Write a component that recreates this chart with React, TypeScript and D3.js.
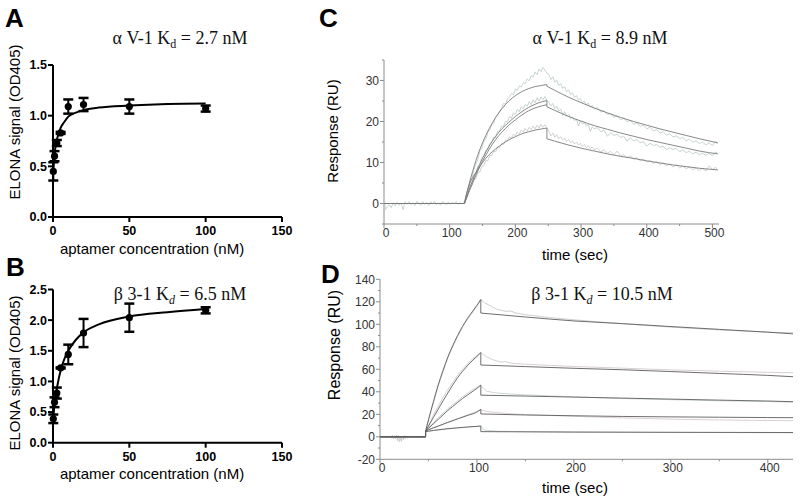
import React from "react";
import * as d3 from "d3";

type Pt = [number, number];

const SANS = "'Liberation Sans', Arial, sans-serif";
const SERIF = "'Liberation Serif', 'Times New Roman', serif";

// ---------- ELONA titration (panels A, B) ----------
const concentrations = [0.2, 1, 2.5, 5, 10, 20, 50, 100];
const signalA = [0.45, 0.6, 0.73, 0.83, 1.09, 1.11, 1.09, 1.07];
const errA = [0.09, 0.05, 0.03, 0.01, 0.07, 0.065, 0.07, 0.03];
const signalB = [0.39, 0.66, 0.81, 1.22, 1.44, 1.79, 2.04, 2.16];
const errB = [0.07, 0.08, 0.09, 0.01, 0.16, 0.23, 0.23, 0.05];

// fitted curves
const fitA: Pt[] = [[0, 0.43], [1, 0.62], [2, 0.72], [3, 0.79], [5, 0.88], [7.5, 0.94], [10, 0.99], [15, 1.03], [20, 1.055], [30, 1.08], [50, 1.1], [75, 1.115], [100, 1.12]];
const fitB: Pt[] = [[0, 0.35], [1, 0.62], [2, 0.8], [3, 0.95], [5, 1.18], [7.5, 1.37], [10, 1.5], [15, 1.68], [20, 1.8], [30, 1.93], [50, 2.06], [75, 2.13], [100, 2.18]];

const elonaXTicks = [0, 50, 100, 150];

// ---------- SPR sensorgrams, panel C ----------
const rawBaseC: Pt[] = [[0, 2.5], [2, -1.5], [5, -0.8], [8, -0.3], [11, -1.0], [14, 0.2], [17, -0.6], [20, 0.3], [23, -0.4], [26, 0.1], [29, -1.5], [32, 0.4], [35, -0.2], [38, 0.5], [41, -0.3], [44, 0.2], [47, -0.5], [50, 0.6], [53, 0.0], [56, -0.4], [59, 0.5], [62, -0.2], [65, 0.3], [68, -0.5], [71, 0.4], [74, 0.0], [77, 0.6], [80, -0.3], [83, 0.2], [86, -0.4], [89, 0.5], [92, 0.1], [95, -0.3], [98, 0.4], [101, -0.2], [104, 0.3], [107, 0.0], [110, 0.5], [113, -0.2], [116, 0.2], [119, -0.1], [122, 0.2]];

const rawC1: Pt[] = [[122, 0.5], [125, 1.8], [128, 3.2], [131, 5.5], [134, 6.2], [137, 8.4], [140, 9.6], [143, 10.8], [146, 12.9], [149, 13.5], [152, 15.2], [155, 15.6], [158, 17.4], [161, 17.9], [164, 19.3], [167, 19.6], [170, 21.2], [173, 21.5], [176, 22.7], [179, 23.1], [182, 24.4], [185, 24.2], [188, 25.6], [191, 25.9], [194, 26.8], [197, 26.5], [200, 27.9], [203, 27.6], [206, 28.7], [209, 28.4], [212, 29.5], [215, 29.2], [218, 30.4], [221, 29.9], [224, 31.2], [227, 30.8], [230, 32.1], [233, 31.4], [236, 32.8], [239, 32.2], [242, 33.2], [245, 32.5], [248, 31.8], [251, 31.5], [254, 30.2], [257, 30.9], [260, 29.6], [263, 30.1], [266, 28.8], [269, 29.2], [272, 28.1], [275, 28.5], [278, 27.3], [281, 27.7], [284, 26.6], [287, 27], [290, 25.9], [293, 26.3], [296, 25.2], [299, 25.6], [302, 24.6], [305, 25], [308, 24], [311, 24.5], [314, 23.5], [317, 23.9], [320, 23], [325, 23.4], [330, 22.3], [335, 22.7], [340, 21.7], [345, 22], [350, 21], [355, 21.4], [360, 20.4], [365, 20.8], [370, 19.9], [375, 20.3], [380, 19.3], [385, 19.7], [390, 18.8], [395, 19.1], [400, 18.2], [405, 18.6], [410, 17.7], [415, 18], [420, 17.2], [425, 17.5], [430, 16.7], [435, 17], [440, 16.2], [445, 16.5], [450, 15.8], [455, 16.1], [460, 15.3], [465, 15.7], [470, 15], [475, 15.3], [480, 14.6], [485, 15], [490, 14.3], [495, 14.8], [500, 14.1], [505, 15.2], [508, 14.5]];

const rawC2: Pt[] = [[122, 0.3], [125, 1.5], [128, 2.6], [131, 4.4], [134, 5.1], [137, 6.9], [140, 7.4], [143, 9.1], [146, 9.6], [149, 11.2], [152, 11.5], [155, 13], [158, 13.2], [161, 14.6], [164, 14.9], [167, 16.2], [170, 16.1], [173, 17.6], [176, 17.7], [179, 18.9], [182, 18.8], [185, 20.1], [188, 19.9], [191, 21.2], [194, 20.8], [197, 22.1], [200, 21.7], [203, 23], [206, 22.4], [209, 23.6], [212, 23.1], [215, 24.2], [218, 23.7], [221, 24.8], [224, 24.1], [227, 25.3], [230, 24.6], [233, 25.8], [236, 25], [239, 26], [242, 25.3], [245, 26.1], [248, 25.2], [251, 24.6], [254, 23.8], [257, 24.4], [260, 23.1], [263, 23.7], [266, 22.5], [269, 23], [272, 21.5], [275, 22.4], [278, 21.3], [281, 21.8], [284, 20.7], [287, 21.2], [290, 20.2], [293, 20.6], [296, 18.9], [299, 20.1], [302, 19.4], [305, 19.8], [308, 18.9], [311, 19.3], [314, 17.6], [317, 18.7], [320, 18.2], [325, 18.5], [330, 17.5], [335, 17.9], [340, 16.4], [345, 17.3], [350, 16.6], [355, 16.9], [360, 16.1], [365, 16.4], [370, 15.2], [375, 16], [380, 15.3], [385, 15.6], [390, 14.8], [395, 15.1], [400, 14], [405, 14.7], [410, 14.1], [415, 14.4], [420, 13.7], [425, 14], [430, 13.1], [435, 13.6], [440, 13.2], [445, 13.4], [450, 12.6], [455, 13.1], [460, 12.4], [465, 12.8], [470, 12.1], [475, 12.5], [480, 11.9], [485, 12.3], [490, 11.7], [495, 12.2], [500, 11.6], [505, 12.6], [508, 12]];

const rawC3: Pt[] = [[122, 0.2], [125, 1.8], [128, 2.4], [131, 4], [134, 4.3], [137, 5.9], [140, 6.1], [143, 7.6], [146, 7.7], [149, 9.1], [152, 9.2], [155, 10.5], [158, 10.4], [161, 11.7], [164, 11.6], [167, 12.8], [170, 12.6], [173, 13.8], [176, 13.6], [179, 14.7], [182, 14.4], [185, 15.5], [188, 15.2], [191, 16.3], [194, 15.9], [197, 16.9], [200, 16.5], [203, 17.4], [206, 17], [209, 17.9], [212, 17.4], [215, 18.3], [218, 17.7], [221, 18.6], [224, 18], [227, 18.9], [230, 18.2], [233, 19.1], [236, 18.4], [239, 19.3], [242, 18.6], [245, 19.2], [248, 18.5], [251, 17.6], [254, 16.5], [257, 17.2], [260, 16.2], [263, 16.8], [266, 15.8], [269, 16.3], [272, 15.5], [275, 16], [278, 15.1], [281, 15.6], [284, 14.8], [287, 15.3], [290, 14.5], [293, 15], [296, 14.2], [299, 14.7], [302, 13.9], [305, 14.4], [308, 13.6], [311, 14.1], [314, 13.4], [317, 13.8], [320, 13.1], [325, 13.5], [330, 12.6], [335, 13.1], [340, 12.2], [345, 12.7], [350, 11.9], [355, 12.8], [360, 11.5], [365, 11.9], [370, 11.1], [375, 11.6], [380, 10.8], [385, 11.2], [390, 10.4], [395, 10.9], [400, 10.1], [405, 10.5], [410, 9.8], [415, 10.2], [420, 9.5], [425, 9.9], [430, 9.2], [435, 9.6], [440, 8.9], [445, 9.4], [450, 8.7], [455, 9.1], [460, 8.5], [465, 8.9], [470, 8.2], [475, 8.7], [480, 8], [485, 8.6], [490, 7.9], [495, 9.2], [500, 8.3], [505, 8.8], [508, 8.1]];

const fitC1: Pt[] = [[0, 0], [122, 0], [126, 2.6], [130, 5], [140, 10.5], [150, 14.8], [160, 18.2], [170, 21], [180, 23.2], [190, 25], [200, 26.3], [210, 27.3], [220, 28], [230, 28.5], [240, 28.8], [248, 29], [248, 28.6], [260, 27.6], [280, 26], [300, 24.6], [320, 23.3], [340, 22.1], [360, 21], [380, 20], [400, 19.1], [420, 18.2], [440, 17.4], [460, 16.6], [480, 15.8], [508, 14.8]];
const fitC2: Pt[] = [[0, 0], [122, 0], [126, 1.6], [130, 3.5], [140, 7.5], [150, 11], [160, 14], [170, 16.4], [180, 18.3], [190, 19.8], [200, 21.2], [210, 22.4], [220, 23.4], [230, 24.2], [240, 24.8], [248, 25.1], [248, 23.6], [260, 22.7], [280, 21.3], [300, 20.1], [320, 19], [340, 18.1], [360, 17.2], [380, 16.4], [400, 15.6], [420, 14.9], [440, 14.2], [460, 13.5], [480, 12.8], [508, 12.1]];
const fitC2b: Pt[] = [[122, 0], [126, 1.4], [130, 3.1], [140, 6.9], [150, 10.3], [160, 13.2], [170, 15.6], [180, 17.5], [190, 19.1], [200, 20.4], [210, 21.6], [220, 22.6], [230, 23.3], [240, 23.8], [248, 24.1]];
const fitC3: Pt[] = [[0, 0], [122, 0], [126, 2.5], [130, 4.6], [140, 7.6], [150, 10], [160, 11.9], [170, 13.3], [180, 14.5], [190, 15.5], [200, 16.3], [210, 17], [220, 17.5], [230, 17.9], [240, 18.2], [248, 18.4], [248, 15.8], [260, 15.2], [280, 14.3], [300, 13.5], [320, 12.8], [340, 12.1], [360, 11.5], [380, 11], [400, 10.4], [420, 9.9], [440, 9.4], [460, 9], [480, 8.6], [508, 8.2]];

// ---------- SPR sensorgrams, panel D ----------
const rawBaseD: Pt[] = [[0, 0], [5, 0.2], [8, -0.3], [10, 0.5], [12, -1.2], [13, 1.4], [14, -2], [15, 0.8], [16, -1.5], [17, 1.6], [18, -3.5], [19, 1.2], [20, -4.5], [21, -0.8], [22, -4], [23, 0.6], [24, -2.6], [25, 1], [26, -1.8], [27, 0.9], [28, -1.1], [30, 0.5], [32, -0.4], [35, 0.3], [40, -0.1], [47, 0]];

const rawD1: Pt[] = [[47, 5], [50, 15], [55, 30], [60, 45], [65, 58], [70, 70], [75, 80], [80, 89], [85, 97], [90, 104], [95, 110], [100, 116], [104, 122], [108, 119], [115, 116], [120, 113.5], [125, 112.5], [130, 111.5], [135, 111.8], [140, 110], [150, 108.5], [175, 106], [200, 104], [250, 100.5], [300, 97.5], [350, 95], [400, 93], [426, 92.5]];
const rawD2: Pt[] = [[47, 5], [50, 10], [55, 19], [60, 27], [65, 35], [70, 42], [75, 48.5], [80, 54.5], [85, 60], [90, 64.5], [95, 69], [100, 72.5], [104, 75], [110, 71], [115, 69], [120, 67.5], [125, 66.5], [130, 66.8], [135, 65.5], [150, 64.5], [200, 62.5], [250, 61], [300, 59.5], [350, 58.3], [400, 57.3], [426, 57]];
const rawD3: Pt[] = [[47, 5], [50, 8], [55, 12.5], [60, 17], [65, 21], [70, 25], [75, 28.5], [80, 32], [85, 35.5], [90, 38.5], [95, 41.5], [100, 44], [104, 45.5], [110, 40.5], [120, 39], [135, 38], [150, 37.3], [200, 35.5], [250, 34], [300, 33], [350, 32], [400, 31.3], [426, 30.8]];
const rawD4: Pt[] = [[47, 5], [50, 6.5], [60, 9.5], [70, 13], [80, 16], [90, 19.5], [100, 22.5], [104, 24], [110, 22.5], [120, 21.5], [135, 20.5], [150, 19.8], [200, 18.2], [250, 16.8], [300, 15.7], [350, 15], [400, 14.5], [426, 14.3]];
const rawD5: Pt[] = [[47, 5], [50, 5], [60, 6], [70, 7], [80, 7.8], [90, 8.5], [100, 9.2], [104, 9.5], [107, 6], [120, 5], [150, 4.6], [200, 4.2], [300, 3.9], [426, 3.6]];

const fitD1: Pt[] = [[0, 0], [47, 0], [47, 5], [50, 15], [55, 31], [60, 46], [65, 59], [70, 71], [75, 81], [80, 90], [85, 98], [90, 105], [95, 111], [100, 117], [104, 122], [104, 110], [150, 106.5], [200, 103], [250, 100.6], [300, 98], [350, 95.5], [400, 93], [426, 91.5]];
const fitD2: Pt[] = [[0, 0], [47, 0], [47, 5], [50, 9.5], [55, 17], [60, 24.5], [65, 32], [70, 39], [75, 46], [80, 52.5], [85, 58], [90, 63], [95, 67.5], [100, 71.5], [104, 74.8], [104, 63.8], [150, 62.4], [200, 60.9], [250, 59.6], [300, 58], [350, 56.3], [400, 54.6], [426, 53.4]];
const fitD3: Pt[] = [[0, 0], [47, 0], [47, 5], [50, 7.5], [55, 11.5], [60, 15.5], [65, 19.5], [70, 23.5], [75, 27], [80, 30.5], [85, 34], [90, 37], [95, 40], [100, 43], [104, 46], [104, 37], [150, 36.2], [200, 35.3], [250, 34.4], [300, 33.5], [350, 32.6], [400, 31.8], [426, 31.2]];
const fitD4: Pt[] = [[0, 0], [47, 0], [47, 5], [50, 6.2], [60, 9.5], [70, 12.8], [80, 15.9], [90, 18.9], [100, 22], [104, 24.4], [104, 20.3], [150, 19.4], [200, 18.7], [250, 18.1], [300, 17.7], [350, 17.4], [400, 17.1], [426, 17]];
const fitD5: Pt[] = [[0, 0], [47, 0], [47, 4.5], [50, 5], [60, 6.2], [70, 7.2], [80, 8], [90, 8.7], [100, 9.3], [104, 9.6], [104, 4.6], [200, 4.2], [300, 4], [426, 3.8]];

const AXIS_GREY = "#8c8c8c";
const TICK_TEXT = "#333";

// split a series where the time repeats (injection start/stop jumps)
function splitAtSteps(pts: Pt[]): Pt[][] {
  const segs: Pt[][] = [[pts[0]]];
  for (let i = 1; i < pts.length; i++) {
    if (pts[i][0] === pts[i - 1][0]) segs.push([pts[i]]);
    else segs[segs.length - 1].push(pts[i]);
  }
  return segs;
}

function stepPath(pts: Pt[], x: d3.ScaleLinear<number, number>, y: d3.ScaleLinear<number, number>) {
  const gen = d3.line<Pt>().x((d) => x(d[0])).y((d) => y(d[1])).curve(d3.curveMonotoneX);
  return splitAtSteps(pts)
    .map((s, i) => {
      const p = gen(s) || "";
      return i === 0 ? p : "L" + p.slice(1);
    })
    .join("");
}

function Title({ x, y, name, kd, italicSub }: { x: number; y: number; name: string; kd: string; italicSub?: boolean }) {
  return (
    <text x={x} y={y} textAnchor="middle" fontFamily={SERIF} fontSize={18} fill="#111">
      <tspan>{name} K</tspan>
      <tspan dy={4} fontSize={12} fontStyle={italicSub ? "italic" : "normal"}>d</tspan>
      <tspan dy={-4}>{` = ${kd} nM`}</tspan>
    </text>
  );
}

function Letter({ x, y, text }: { x: number; y: number; text: string }) {
  return (
    <text x={x} y={y} fontFamily={SANS} fontWeight="bold" fontSize={26}>
      {text}
    </text>
  );
}

function ElonaPanel({ yMax, yRange, signal, err, fit, xLabelY, yLabelY }: {
  yMax: number; yRange: [number, number]; signal: number[]; err: number[]; fit: Pt[]; xLabelY: number; yLabelY: number;
}) {
  const x = d3.scaleLinear().domain([0, 150]).range([53, 282]);
  const y = d3.scaleLinear().domain([0, yMax]).range(yRange);
  const line = d3.line<Pt>().x((d) => x(d[0])).y((d) => y(d[1])).curve(d3.curveMonotoneX);
  const yTicks = d3.range(0, yMax + 0.01, 0.5);
  const fmt = d3.format(".1f");
  return (
    <g>
      <line x1={x(0)} x2={x(0)} y1={y(0) + 1} y2={y(yMax)} stroke="#000" strokeWidth={2} />
      <line x1={x(0) - 1} x2={x(150)} y1={y(0)} y2={y(0)} stroke="#000" strokeWidth={2} />
      {yTicks.map((v) => (
        <g key={v}>
          <line x1={x(0) - 5} x2={x(0)} y1={y(v)} y2={y(v)} stroke="#000" strokeWidth={2} />
          <text x={x(0) - 6} y={y(v)} dy="0.35em" textAnchor="end" fontFamily={SANS} fontWeight="bold" fontSize={12.5}>
            {fmt(v)}
          </text>
        </g>
      ))}
      {elonaXTicks.map((v) => (
        <g key={v}>
          <line x1={x(v)} x2={x(v)} y1={y(0)} y2={y(0) + 5} stroke="#000" strokeWidth={2} />
          <text x={x(v)} y={y(0) + 18} textAnchor="middle" fontFamily={SANS} fontWeight="bold" fontSize={12.5}>
            {v}
          </text>
        </g>
      ))}
      <path d={line(fit) || ""} fill="none" stroke="#000" strokeWidth={2} />
      {concentrations.map((c, i) => {
        const cx = x(c);
        const hi = y(signal[i] + err[i]);
        const lo = y(signal[i] - err[i]);
        return (
          <g key={c}>
            <line x1={cx} x2={cx} y1={hi} y2={lo} stroke="#000" strokeWidth={2} />
            <line x1={cx - 5} x2={cx + 5} y1={hi} y2={hi} stroke="#000" strokeWidth={2.5} />
            <line x1={cx - 5} x2={cx + 5} y1={lo} y2={lo} stroke="#000" strokeWidth={2.5} />
            <circle cx={cx} cy={y(signal[i])} r={3.6} fill="#000" />
          </g>
        );
      })}
      <text x={152} y={xLabelY} textAnchor="middle" fontFamily={SANS} fontSize={15}>
        aptamer concentration (nM)
      </text>
      <text transform={`translate(20,${yLabelY}) rotate(-90)`} textAnchor="middle" fontFamily={SANS} fontSize={15}>
        ELONA signal (OD405)
      </text>
    </g>
  );
}

function SprPanel({ xDomain, xRange, yDomain, yRange, yMajor, yMinor, xMajor, xMinor, rawBase, raws, rawColors, fits, fitColor, yLabelX, yLabelY, yLabelSize, xLabelY, xTickY }: {
  xDomain: [number, number]; xRange: [number, number]; yDomain: [number, number]; yRange: [number, number];
  yMajor: number[]; yMinor: number[]; xMajor: number[]; xMinor: number[];
  rawBase: Pt[]; raws: Pt[][]; rawColors: string[]; fits: Pt[][]; fitColor: string;
  yLabelX: number; yLabelY: number; yLabelSize: number; xLabelY: number; xTickY: number;
}) {
  const x = d3.scaleLinear().domain(xDomain).range(xRange);
  const y = d3.scaleLinear().domain(yDomain).range(yRange);
  const raw = d3.line<Pt>().x((d) => x(d[0])).y((d) => y(d[1]));
  const x0 = xRange[0];
  const yb = yRange[0];
  return (
    <g>
      <line x1={x0} x2={x0} y1={yb} y2={yRange[1]} stroke={AXIS_GREY} strokeWidth={1} />
      <line x1={x0} x2={xRange[1]} y1={yb} y2={yb} stroke={AXIS_GREY} strokeWidth={1} />
      {yMinor.map((v) => (
        <line key={"ym" + v} x1={x0 - 2} x2={x0} y1={y(v)} y2={y(v)} stroke={AXIS_GREY} />
      ))}
      {yMajor.map((v) => (
        <g key={"y" + v}>
          <line x1={x0 - 4} x2={x0} y1={y(v)} y2={y(v)} stroke={AXIS_GREY} />
          <text x={x0 - 5} y={y(v)} dy="0.35em" textAnchor="end" fontFamily={SANS} fontSize={12} fill={TICK_TEXT}>
            {v}
          </text>
        </g>
      ))}
      {xMinor.map((v) => (
        <line key={"xm" + v} x1={x(v)} x2={x(v)} y1={yb} y2={yb + 2} stroke={AXIS_GREY} />
      ))}
      {xMajor.map((v) => (
        <g key={"x" + v}>
          <line x1={x(v)} x2={x(v)} y1={yb} y2={yb + 4} stroke={AXIS_GREY} />
          <text x={x(v) + 2} y={xTickY} textAnchor="middle" fontFamily={SANS} fontSize={12} fill={TICK_TEXT}>
            {v}
          </text>
        </g>
      ))}
      <path d={raw(rawBase) || ""} fill="none" stroke={rawColors[0]} strokeWidth={0.9} />
      {raws.map((r, i) => (
        <path key={"r" + i} d={raw(r) || ""} fill="none" stroke={rawColors[i % rawColors.length]} strokeWidth={0.9} />
      ))}
      {fits.map((f, i) => (
        <path key={"f" + i} d={stepPath(f, x, y)} fill="none" stroke={fitColor} strokeWidth={0.9} />
      ))}
      <text x={575} y={xLabelY} textAnchor="middle" fontFamily={SANS} fontSize={15}>
        time (sec)
      </text>
      <text transform={`translate(${yLabelX},${yLabelY}) rotate(-90)`} textAnchor="middle" fontFamily={SANS} fontSize={yLabelSize}>
        Response (RU)
      </text>
    </g>
  );
}

export default function App() {
  return (
    <svg width={800} height={501} style={{ position: "absolute", left: 0, top: 0, background: "#fff" }}>
      <rect width={800} height={501} fill="#fff" />

      <Letter x={5} y={27} text="A" />
      <Title x={180} y={44} name="α V-1" kd="2.7" />
      <ElonaPanel yMax={1.5} yRange={[217, 65]} signal={signalA} err={errA} fit={fitA} xLabelY={254} yLabelY={122} />

      <Letter x={6} y={276} text="B" />
      <Title x={180} y={300} name="β 3-1" kd="6.5" italicSub />
      <ElonaPanel yMax={2.5} yRange={[442.7, 289.5]} signal={signalB} err={errB} fit={fitB} xLabelY={479} yLabelY={373} />

      <Letter x={319} y={27} text="C" />
      <Title x={600} y={44} name="α V-1" kd="8.9" />
      <SprPanel
        xDomain={[0, 510]}
        xRange={[384, 719]}
        yDomain={[-5, 35]}
        yRange={[224, 60]}
        yMajor={[0, 10, 20, 30]}
        yMinor={d3.range(-5, 36, 5)}
        xMajor={[0, 100, 200, 300, 400, 500]}
        xMinor={[50, 150, 250, 350, 450]}
        rawBase={rawBaseC}
        raws={[rawC1, rawC2, rawC3]}
        rawColors={["#c2d0c9", "#c0cec6", "#cacdcb"]}
        fits={[fitC1, fitC2, fitC2b, fitC3]}
        fitColor="#7a7a7a"
        yLabelX={338}
        yLabelY={131}
        yLabelSize={15}
        xLabelY={260}
        xTickY={237}
      />

      <Letter x={321} y={283} text="D" />
      <Title x={602} y={300} name="β 3-1" kd="10.5" italicSub />
      <SprPanel
        xDomain={[0, 426]}
        xRange={[380, 793]}
        yDomain={[-20, 140]}
        yRange={[459.3, 279.3]}
        yMajor={d3.range(-20, 141, 20)}
        yMinor={d3.range(-10, 141, 20)}
        xMajor={[0, 100, 200, 300, 400]}
        xMinor={[50, 150, 250, 350]}
        rawBase={rawBaseD}
        raws={[rawD1, rawD2, rawD3, rawD4, rawD5]}
        rawColors={["#c8c8c8", "#d3c9cf", "#c8d3cd", "#d4cad1", "#c7d2cb"]}
        fits={[fitD1, fitD2, fitD3, fitD4, fitD5]}
        fitColor="#5e5e5e"
        yLabelX={340}
        yLabelY={345}
        yLabelSize={16}
        xLabelY={493}
        xTickY={472}
      />
    </svg>
  );
}
